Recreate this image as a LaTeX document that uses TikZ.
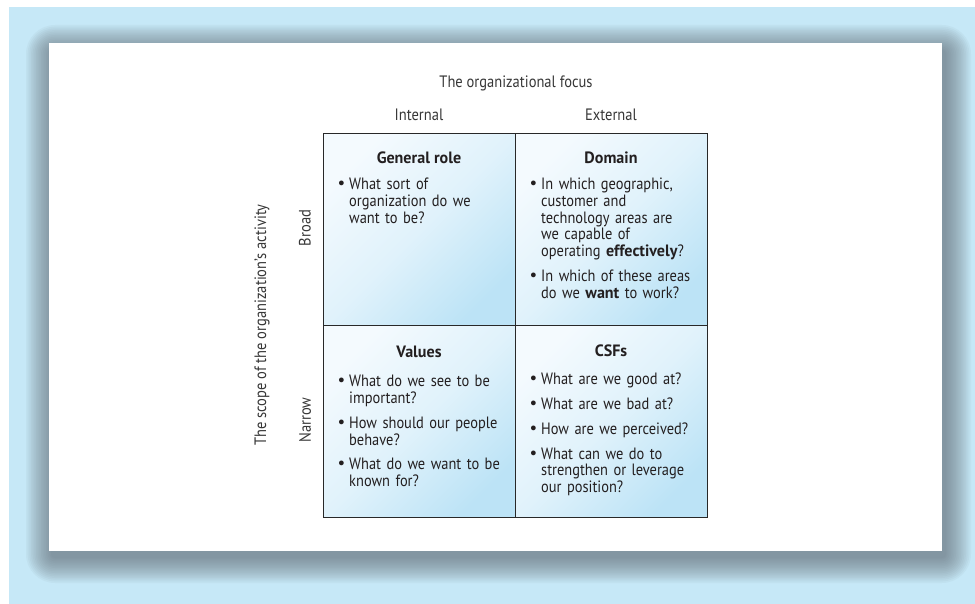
\documentclass[tikz,border=0pt]{standalone}
\usepackage{fontspec}
\setmainfont{PT Sans}[FakeStretch=0.88, BoldFeatures={FakeStretch=0.98}]
\newfontfamily\symfont{DejaVu Sans}
\definecolor{bgblue}{RGB}{198,232,247}
\definecolor{shadowc}{RGB}{89,97,107}
\definecolor{boxblue}{RGB}{188,227,246}
\definecolor{boxmid}{RGB}{224,242,251}
\definecolor{boxlight}{RGB}{244,250,254}
\definecolor{txt}{RGB}{35,31,32}
\definecolor{lblc}{RGB}{55,55,55}
\definecolor{gridc}{RGB}{40,40,40}
\newcommand\bodyfont{\fontsize{16.4}{16.7}\selectfont}
\newcommand\bitem[1]{\par\hangindent=12pt\hangafter=1\noindent\makebox[12pt][l]{\hspace{-0.5pt}{\symfont\textbullet}}#1\par}
\newcommand\bgap{\vspace{8pt}}
\tikzset{
  qshade/.style={top color=boxlight, bottom color=boxblue, middle color=boxmid, shading angle=45},
  quad/.style={qshade, draw=gridc, line width=1.2pt, minimum width=192pt, minimum height=192pt, inner sep=0pt, anchor=north west},
  qtitle/.style={font=\bodyfont\bfseries, text=txt, inner sep=0pt},
  qtext/.style={anchor=north west, inner sep=0pt, text width=185pt, align=left, font=\bodyfont, text=txt},
  lbl/.style={font=\fontsize{16.5}{18}\selectfont, text=lblc, inner sep=0pt}
}
\begin{document}
\begin{tikzpicture}[x=1pt, y=-1pt]
\useasboundingbox (0,0) rectangle (975,604);
\fill[white] (0,0) rectangle (975,604);
\fill[bgblue] (9,7) rectangle (975,604);
% blurred shadow of the card
\foreach \i [evaluate=\i as \e using 25*(1-\i/15)] in {0,...,15}{
  \fill[shadowc, fill opacity=0.05, rounded corners=\e+4] (51-\e,50-\e) rectangle (946+\e,558+\e);
}
\fill[white] (49,43) rectangle (942,551);
% quadrants
\node[quad] (q1) at (323,133) {};
\node[quad] (q2) at (515,133) {};
\node[quad] (q3) at (323,325) {};
\node[quad] (q4) at (515,325) {};
% axis labels
\node[lbl] (focus) at (516,83) {The organizational focus};
\node[lbl] (int) at (419,115) {Internal};
\node[lbl] (ext) at (611,115) {External};
\node[lbl, rotate=90] (broad) at (305,228) {Broad};
\node[lbl, rotate=90] (narrow) at (305,420) {Narrow};
\node[lbl, rotate=90] (scope) at (262,325) {The scope of the organization’s activity};
% titles
\node[qtitle] (t1) at (419,158) {General role};
\node[qtitle] (t2) at (611,158) {Domain};
\node[qtitle] (t3) at (419,352) {Values};
\node[qtitle] (t4) at (611,351) {CSFs};
% texts
\node[qtext] (b1) at (337,173) {\bitem{What sort of\newline organization do we\newline want to be?}};
\node[qtext] (b2) at (529,173) {\bitem{In which geographic,\newline customer and\newline technology areas are\newline we capable of\newline operating \textbf{effectively}?}\bgap\bitem{In which of these areas\newline do we \textbf{want} to work?}};
\node[qtext] (b3) at (337,370) {\bitem{What do we see to be\newline important?}\bgap\bitem{How should our people\newline behave?}\bgap\bitem{What do we want to be\newline known for?}};
\node[qtext] (b4) at (529,368) {\bitem{What are we good at?}\bgap\bitem{What are we bad at?}\bgap\bitem{How are we perceived?}\bgap\bitem{What can we do to\newline strengthen or leverage\newline our position?}};
\end{tikzpicture}
\end{document}
